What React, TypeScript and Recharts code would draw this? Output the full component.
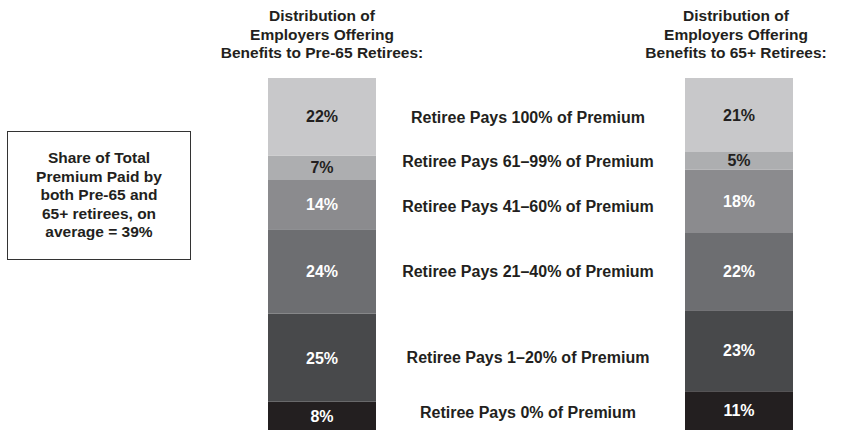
import { BarChart, Bar, XAxis, YAxis, LabelList } from "recharts";

// bottom -> top order, as stacked
const categories = [
    "Retiree Pays 0% of Premium",
    "Retiree Pays 1\u201320% of Premium",
    "Retiree Pays 21\u201340% of Premium",
    "Retiree Pays 41\u201360% of Premium",
    "Retiree Pays 61\u201399% of Premium",
    "Retiree Pays 100% of Premium",
];
const keys = ["p0", "p1_20", "p21_40", "p41_60", "p61_99", "p100"];
const pre65Values = [8, 25, 24, 14, 7, 22];
const post65Values = [11, 23, 22, 18, 5, 21];

const pre65Title = ["Distribution of", "Employers Offering", "Benefits to Pre-65 Retirees:"];
const post65Title = ["Distribution of", "Employers Offering", "Benefits to 65+ Retirees:"];
const boxLines = ["Share of Total", "Premium Paid by", "both Pre-65 and", "65+ retirees, on", "average = 39%"];

const fills = ["#231f20", "#48494b", "#6d6e71", "#8b8b8e", "#adaeb0", "#c8c8ca"];
const labelFills = ["#fff", "#fff", "#fff", "#fff", "#231f20", "#231f20"];
// vertical centre of each middle label (px)
const middleLabelY = [413, 358, 272, 207, 162, 118];

const FONT = "'Liberation Sans', Arial, Helvetica, sans-serif";
const TEXT = "#231f20";

const toRow = (name: string, values: number[]) => {
    const row: Record<string, string | number> = { name };
    keys.forEach((k, i) => (row[k] = values[i]));
    return [row];
};

const StackBar = ({ values, name, left }: { values: number[]; name: string; left: number }) => (
    <div style={{ position: "absolute", left, top: 78 }}>
        <BarChart
            width={108}
            height={352}
            data={toRow(name, values)}
            margin={{ top: 0, right: 0, bottom: 0, left: 0 }}
            barCategoryGap={0}
        >
            <XAxis dataKey="name" hide />
            <YAxis hide domain={[0, 100]} />
            {keys.map((k, i) => (
                <Bar key={k} dataKey={k} stackId="a" fill={fills[i]} isAnimationActive={false}>
                    <LabelList
                        dataKey={k}
                        position="center"
                        formatter={(v: any) => `${v}%`}
                        style={{ fill: labelFills[i], fontFamily: FONT, fontWeight: 700, fontSize: 16 }}
                    />
                </Bar>
            ))}
        </BarChart>
    </div>
);

const Title = ({ lines, center }: { lines: string[]; center: number }) => (
    <div
        style={{
            position: "absolute",
            left: center - 130,
            top: 7,
            width: 260,
            textAlign: "center",
            fontSize: 15.5,
            lineHeight: "18.5px",
            fontWeight: 700,
            color: TEXT,
        }}
    >
        {lines.map((l) => (
            <div key={l}>{l}</div>
        ))}
    </div>
);

export default function App() {
    return (
        <div
            style={{
                position: "fixed",
                left: 0,
                top: 0,
                width: 849,
                height: 430,
                background: "#fff",
                fontFamily: FONT,
                overflow: "hidden",
            }}
        >
            <Title lines={pre65Title} center={322} />
            <Title lines={post65Title} center={736} />

            <div
                style={{
                    position: "absolute",
                    left: 7,
                    top: 131,
                    width: 182,
                    height: 127,
                    border: "1.5px solid #333",
                    display: "flex",
                    flexDirection: "column",
                    justifyContent: "center",
                    alignItems: "center",
                    fontSize: 15.5,
                    lineHeight: "18.5px",
                    fontWeight: 700,
                    color: TEXT,
                    textAlign: "center",
                }}
            >
                {boxLines.map((l) => (
                    <div key={l}>{l}</div>
                ))}
            </div>

            <StackBar values={pre65Values} name="Pre-65" left={268} />
            <StackBar values={post65Values} name="65+" left={685} />

            {categories.map((c, i) => (
                <div
                    key={c}
                    style={{
                        position: "absolute",
                        left: 528 - 160,
                        width: 320,
                        top: middleLabelY[i] - 10,
                        height: 20,
                        lineHeight: "20px",
                        textAlign: "center",
                        fontSize: 16,
                        fontWeight: 700,
                        color: TEXT,
                    }}
                >
                    {c}
                </div>
            ))}
        </div>
    );
}
